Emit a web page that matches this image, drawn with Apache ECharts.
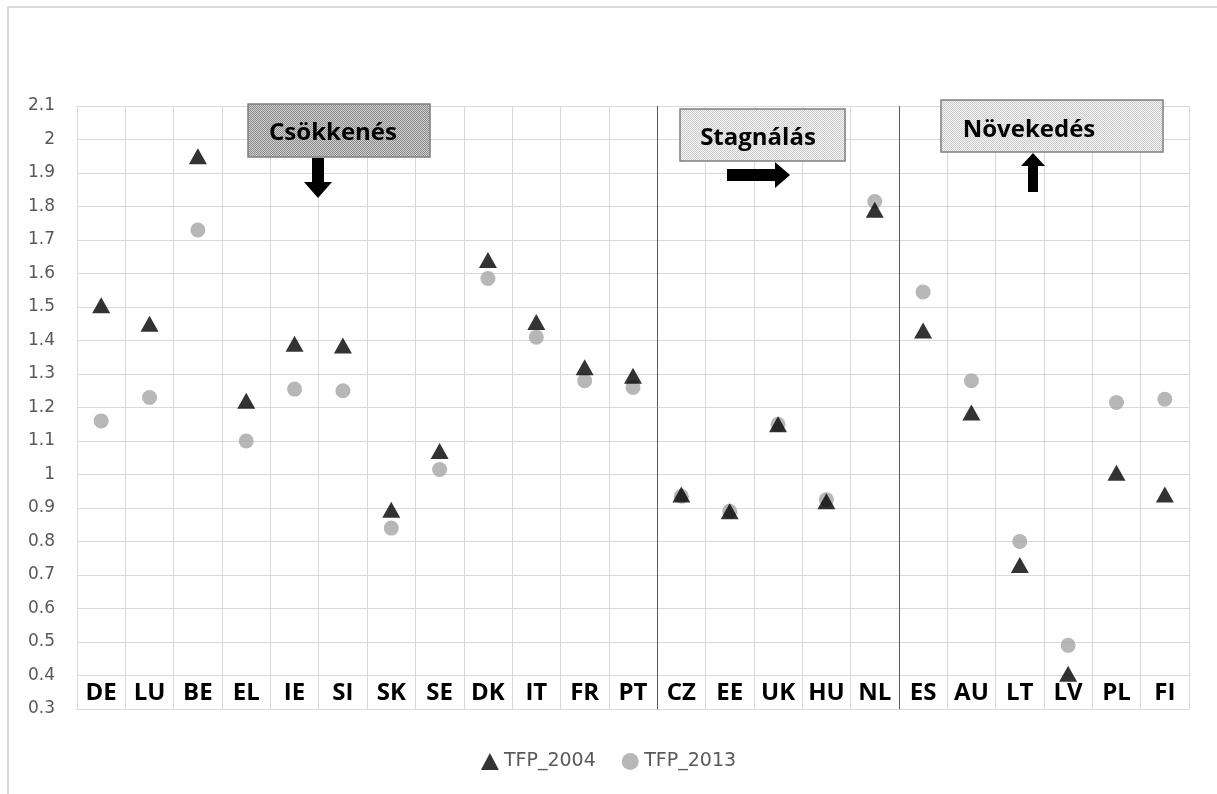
<!DOCTYPE html>
<html>
<head>
<meta charset="utf-8">
<script src="https://cdn.jsdelivr.net/npm/echarts@6/dist/echarts.min.js"></script>
<style>
  html, body { margin: 0; padding: 0; background: #ffffff; }
  #chart { width: 1217px; height: 794px; }
</style>
</head>
<body>
<div id="chart"></div>
<script>
// Countries, grouped: decline (DE..PT), stagnation (CZ..NL), growth (ES..FI)
const countries = ['DE','LU','BE','EL','IE','SI','SK','SE','DK','IT','FR','PT',
                   'CZ','EE','UK','HU','NL','ES','AU','LT','LV','PL','FI'];
const tfp2004 = [1.505, 1.45, 1.95, 1.22, 1.39, 1.385, 0.895, 1.07, 1.64, 1.455, 1.32, 1.295,
                 0.94, 0.89, 1.15, 0.92, 1.79, 1.43, 1.185, 0.73, 0.405, 1.005, 0.94];
const tfp2013 = [1.16, 1.23, 1.73, 1.10, 1.255, 1.25, 0.84, 1.015, 1.585, 1.41, 1.28, 1.26,
                 0.935, 0.89, 1.15, 0.925, 1.815, 1.545, 1.28, 0.80, 0.49, 1.215, 1.225];
// Group boundaries, in category units
const groupBreaks = [12, 17];

const boldFont = '"Open Sans", "DejaVu Sans", sans-serif';
const plainFont = '"DejaVu Sans", "Open Sans", sans-serif';

// Small checker tile used for the shaded annotation boxes
function checker(dark, light) {
  const c = document.createElement('canvas');
  c.width = 2; c.height = 2;
  const g = c.getContext('2d');
  g.fillStyle = light; g.fillRect(0, 0, 2, 2);
  g.fillStyle = dark; g.fillRect(0, 0, 1, 1); g.fillRect(1, 1, 1, 1);
  return { image: c, repeat: 'repeat' };
}

function box(x, y, w, h, fill, text, tx, dy) {
  return [
    { type: 'rect', shape: { x: x, y: y, width: w, height: h }, z: 10,
      style: { fill: fill, stroke: '#7f7f7f', lineWidth: 1.5 } },
    { type: 'text', x: tx, y: y + h / 2 + dy, z: 11,
      style: { text: text, fill: '#000', font: 'bold 24px ' + boldFont,
               textAlign: 'center', textVerticalAlign: 'middle' } }
  ];
}

const chart = echarts.init(document.getElementById('chart'));

const option = {
  backgroundColor: '#ffffff',
  animation: false,
  grid: { left: 77, right: 28, top: 106, bottom: 85, containLabel: false },
  legend: {
    top: 752, left: 'center', padding: 0, itemGap: 26, itemWidth: 18, itemHeight: 17,
    data: [
      { name: 'TFP_2004', icon: 'triangle' },
      { name: 'TFP_2013', icon: 'circle' }
    ],
    textStyle: { color: '#595959', fontSize: 19, fontFamily: plainFont }
  },
  xAxis: [
    {
      type: 'category', data: countries, boundaryGap: true,
      axisLine: { show: true, lineStyle: { color: '#d9d9d9', width: 1 } },
      axisTick: { show: false },
      splitLine: { show: true, lineStyle: { color: '#d9d9d9', width: 1 } },
      axisLabel: {
        inside: true, margin: 4, interval: 0, color: '#000',
        fontSize: 24, fontWeight: 'bold', fontFamily: boldFont
      }
    },
    { type: 'value', min: 0, max: countries.length, show: false }
  ],
  yAxis: {
    type: 'value', min: 0.3, max: 2.1, interval: 0.1,
    axisLine: { show: false }, axisTick: { show: false },
    splitLine: { lineStyle: { color: '#d9d9d9', width: 1 } },
    axisLabel: { color: '#595959', fontSize: 17, fontFamily: plainFont, margin: 22 }
  },
  series: [
    {
      name: 'TFP_2013', type: 'scatter', data: tfp2013,
      symbol: 'circle', symbolSize: 15,
      itemStyle: { color: '#a5a5a5' }
    },
    {
      name: 'TFP_2004', type: 'scatter', data: tfp2004,
      symbol: 'triangle', symbolSize: [18, 16],
      itemStyle: { color: '#000000' }
    },
    {
      // group separators
      type: 'scatter', xAxisIndex: 1, data: [], silent: true,
      markLine: {
        symbol: 'none', silent: true, label: { show: false },
        lineStyle: { color: '#595959', width: 1, type: 'solid' },
        data: groupBreaks.map(v => ({ xAxis: v }))
      }
    }
  ],
  graphic: [
    // outer chart frame
    { type: 'rect', shape: { x: 8, y: 7, width: 1230, height: 800 }, z: -1, silent: true,
      style: { fill: 'none', stroke: '#d9d9d9', lineWidth: 2 } },
    ...box(248, 104, 182, 53, checker('#8a8a8a', '#cfcfcf'), 'Csökkenés', 333, 3),
    ...box(680, 109, 165, 52, checker('#cccccc', '#f4f4f4'), 'Stagnálás', 758, 3),
    ...box(941, 100, 222, 52, checker('#cccccc', '#f4f4f4'), 'Növekedés', 1029, 4),
    // down arrow
    { type: 'polygon', z: 12, shape: { points: [[312,158],[324,158],[324,182],[332,182],[318,198],[304,182],[312,182]] },
      style: { fill: '#000' } },
    // right arrow
    { type: 'polygon', z: 12, shape: { points: [[727,169],[775,169],[775,162],[790,175],[775,188],[775,181],[727,181]] },
      style: { fill: '#000' } },
    // up arrow
    { type: 'polygon', z: 12, shape: { points: [[1028,192],[1038,192],[1038,166],[1045,166],[1033,153],[1021,166],[1028,166]] },
      style: { fill: '#000' } }
  ]
};

chart.setOption(option);
</script>
</body>
</html>
